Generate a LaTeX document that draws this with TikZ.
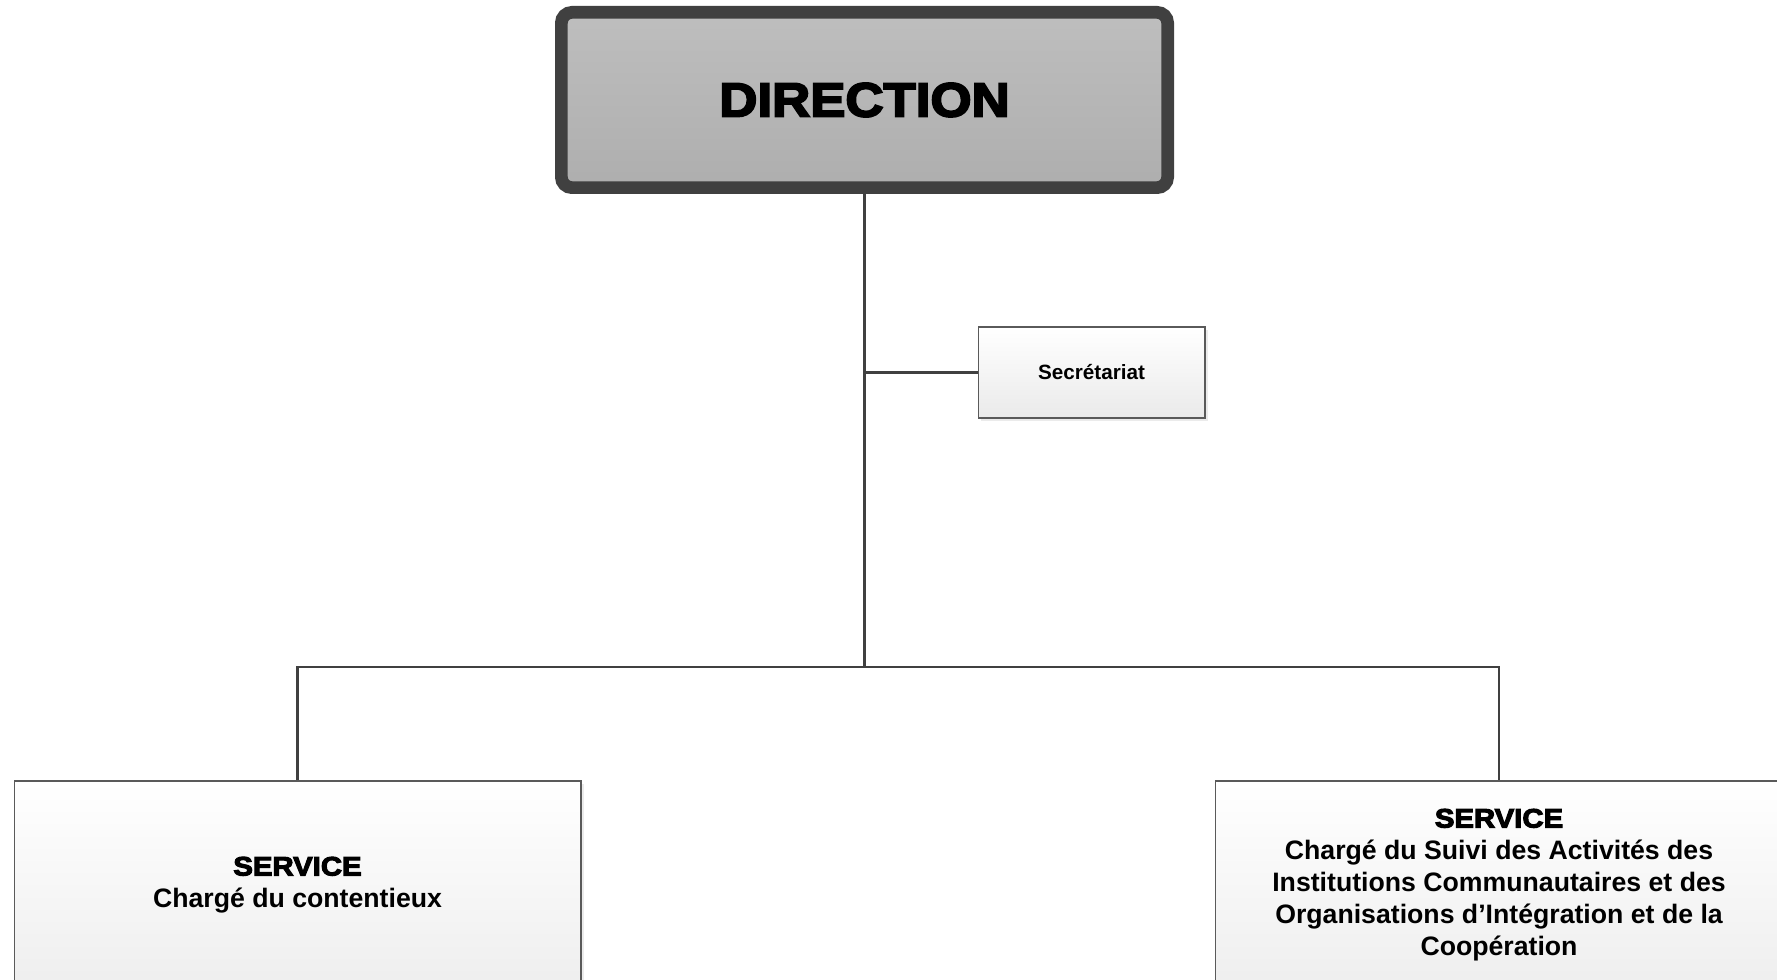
\documentclass[tikz,border=0pt]{standalone}
\usepackage{fontspec}
\setmainfont{Liberation Sans}
\newfontfamily\heavyfont{Liberation Sans Bold}[FakeBold=4,FakeStretch=1.1]
\usetikzlibrary{positioning,shadows}

\definecolor{edgegrey}{RGB}{64,64,64}
\definecolor{boxgrey}{RGB}{90,90,90}

\tikzset{every picture/.style={line width=0.75pt}}
\tikzset{
  link/.style={draw=edgegrey, line width=1.6pt},
  headbox/.style={draw=edgegrey, line width=9.5pt, rounded corners=8pt,
    top color={rgb,255:red,190;green,190;blue,190}, bottom color={rgb,255:red,174;green,174;blue,174},
    minimum width=454.75pt, minimum height=131.5pt, inner sep=0pt,
    font=\heavyfont\fontsize{36}{40}\selectfont,
    drop shadow={shadow xshift=2.5pt, shadow yshift=-2.5pt, fill=black!12}},
  secbox/.style={draw=boxgrey, line width=1pt,
    top color=white, bottom color={rgb,255:red,234;green,234;blue,234},
    minimum width=170pt, minimum height=68pt, inner sep=0pt,
    font=\bfseries\fontsize{15.5}{18}\selectfont,
    drop shadow={shadow xshift=2pt, shadow yshift=-2pt, fill=black!15}},
  servbox/.style={draw=boxgrey, line width=1pt,
    top color=white, bottom color={rgb,255:red,238;green,238;blue,238},
    minimum width=425pt, minimum height=156pt, inner sep=0pt, align=center,
    font=\bfseries\fontsize{20}{24}\selectfont,
    drop shadow={shadow xshift=2pt, shadow yshift=-2pt, fill=black!15}},
}
\newcommand{\servtitle}{{\heavyfont SERVICE}}

\begin{document}
\begin{tikzpicture}[x=0.75pt,y=0.75pt,yscale=-1,xscale=1]
\path [use as bounding box, fill=white] (0,0) rectangle (1777,980);
\clip (0,0) rectangle (1777,980);

% Boxes
\node [headbox] (dir) at (864.5,100) {DIRECTION};
\node [secbox] (sec) at (1091.5,372.5) {Secrétariat};
\node [servbox] (contentieux) at (297.5,885) {\servtitle\\Chargé du contentieux};
\node [servbox] (suivi) at (1499,885) {\servtitle\\Chargé du Suivi des Activités des\\Institutions Communautaires et des\\Organisations d’Intégration et de la\\Coopération};
\coordinate (bus) at (864.5,667);

% Connectors
\draw [link] (dir.south) -- (bus);
\draw [link] (sec.west) -- (sec.west -| dir.south);
\draw [link] (contentieux.north) |- (bus) -| (suivi.north);

\end{tikzpicture}
\end{document}
